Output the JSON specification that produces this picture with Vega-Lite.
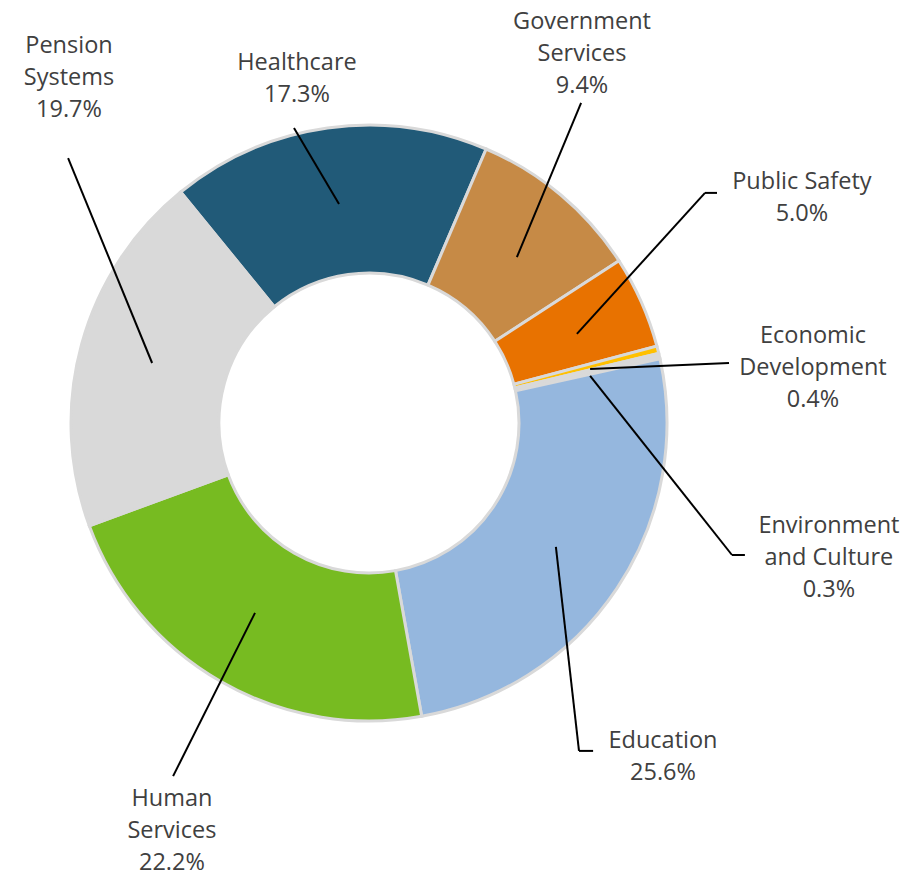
{
  "$schema": "https://vega.github.io/schema/vega-lite/v6.json",
  "width": 920,
  "height": 876,
  "padding": 0,
  "autosize": {"type": "none"},
  "background": "white",
  "config": {"view": {"stroke": null}},
  "datasets": {
    "slices": [
      {"category": "Healthcare", "share": 17.3, "order": 1},
      {"category": "Government Services", "share": 9.4, "order": 2},
      {"category": "Public Safety", "share": 5.0, "order": 3},
      {"category": "Economic Development", "share": 0.4, "order": 4},
      {"category": "Environment and Culture", "share": 0.3, "order": 5},
      {"category": "Education", "share": 25.6, "order": 6},
      {"category": "Human Services", "share": 22.2, "order": 7},
      {"category": "Pension Systems", "share": 19.7, "order": 8}
    ],
    "leaders": [
      {"category": "Pension Systems", "x1": -100.3, "y1": 88.3, "x2": -72.3, "y2": 20},
      {"category": "Healthcare", "x1": -25, "y1": 98.3, "x2": -10, "y2": 73},
      {"category": "Government Services", "x1": 70.7, "y1": 106.7, "x2": 49.3, "y2": 55.3},
      {"category": "Public Safety", "x1": 69.3, "y1": 29.7, "x2": 112, "y2": 76.7},
      {"category": "Public Safety", "x1": 112, "y1": 76.7, "x2": 116, "y2": 76.7},
      {"category": "Economic Development", "x1": 73.7, "y1": 18, "x2": 120, "y2": 20},
      {"category": "Environment and Culture", "x1": 73.7, "y1": 15.7, "x2": 121, "y2": -44},
      {"category": "Environment and Culture", "x1": 121, "y1": -44, "x2": 125.3, "y2": -44},
      {"category": "Education", "x1": 62.3, "y1": -41.3, "x2": 70, "y2": -109.3},
      {"category": "Education", "x1": 70, "y1": -109.3, "x2": 74.7, "y2": -109.3},
      {"category": "Human Services", "x1": -38, "y1": -63.3, "x2": -65.3, "y2": -117.7}
    ],
    "labels": [
      {"label": "Pension\nSystems\n19.7%", "lx": -100, "ly": 125.7},
      {"label": "Healthcare\n17.3%", "lx": -24, "ly": 120},
      {"label": "Government\nServices\n9.4%", "lx": 71, "ly": 133.7},
      {"label": "Public Safety\n5.0%", "lx": 144.3, "ly": 80.3},
      {"label": "Economic\nDevelopment\n0.4%", "lx": 148, "ly": 29},
      {"label": "Environment\nand Culture\n0.3%", "lx": 153.3, "ly": -34.3},
      {"label": "Education\n25.6%", "lx": 98, "ly": -106},
      {"label": "Human\nServices\n22.2%", "lx": -65.7, "ly": -125.2}
    ]
  },
  "layer": [
    {
      "data": {"name": "slices"},
      "mark": {"type": "arc", "outerRadius": 298, "innerRadius": 150, "stroke": "#d9d9d9", "strokeWidth": 3},
      "encoding": {
        "x": {"datum": 0, "type": "quantitative", "scale": {"domain": [-123, 183.667], "nice": false, "zero": false}, "axis": null},
        "y": {"datum": 0, "type": "quantitative", "scale": {"domain": [-151, 141], "nice": false, "zero": false}, "axis": null},
        "theta": {"field": "share", "type": "quantitative", "stack": true, "scale": {"range": [-0.684, 5.5992]}},
        "order": {"field": "order", "type": "quantitative"},
        "color": {
          "field": "category",
          "type": "nominal",
          "legend": null,
          "scale": {
            "domain": ["Healthcare", "Government Services", "Public Safety", "Economic Development", "Environment and Culture", "Education", "Human Services", "Pension Systems"],
            "range": ["#215a78", "#c68a46", "#e87200", "#ffc000", "#d9d9d9", "#95b7de", "#77bb21", "#d9d9d9"]
          }
        }
      }
    },
    {
      "data": {"name": "leaders"},
      "mark": {"type": "rule", "color": "#000000", "strokeWidth": 2},
      "encoding": {
        "x": {"field": "x1", "type": "quantitative"},
        "y": {"field": "y1", "type": "quantitative"},
        "x2": {"field": "x2"},
        "y2": {"field": "y2"}
      }
    },
    {
      "data": {"name": "labels"},
      "mark": {"type": "text", "font": "Open Sans", "fontSize": 23.5, "color": "#404040", "lineBreak": "\n", "lineHeight": 32, "align": "center", "baseline": "middle"},
      "encoding": {
        "x": {"field": "lx", "type": "quantitative"},
        "y": {"field": "ly", "type": "quantitative"},
        "text": {"field": "label", "type": "nominal"}
      }
    }
  ]
}
